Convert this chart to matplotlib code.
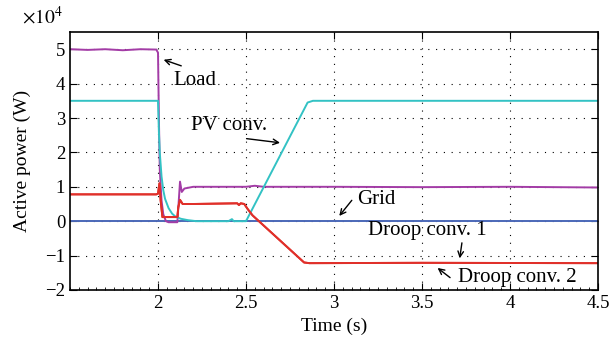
import matplotlib.pyplot as plt
from matplotlib.ticker import MultipleLocator

# power values in units of 1e4 W
t_load = [1.5, 1.6, 1.7, 1.8, 1.9, 1.99, 2.0, 2.005, 2.01, 2.02, 2.03, 2.045, 2.06, 2.11, 2.118,
          2.125, 2.135, 2.15, 2.2, 2.5, 2.55, 2.6, 3.0, 3.5, 4.0, 4.5]
p_load = [5.0, 4.98, 5.0, 4.97, 5.0, 4.99, 4.9, 3.0, 1.5, 0.6, 0.2, 0.0, -0.03, -0.03, 0.6,
          1.15, 0.85, 0.95, 1.0, 1.0, 1.03, 1.0, 1.0, 0.99, 1.0, 0.98]

t_pv = [1.5, 2.0, 2.005, 2.01, 2.02, 2.03, 2.04, 2.06, 2.08, 2.1, 2.13, 2.17, 2.22, 2.4, 2.42,
        2.43, 2.5, 2.85, 2.88, 3.5, 4.5]
p_pv = [3.5, 3.5, 2.6, 2.0, 1.3, 0.9, 0.65, 0.38, 0.22, 0.13, 0.07, 0.03, 0.0, 0.0, 0.06,
        0.0, 0.0, 3.45, 3.5, 3.5, 3.5]

t_grid = [1.5, 4.5]
p_grid = [0.0, 0.0]

t_droop = [1.5, 1.99, 2.0, 2.008, 2.015, 2.025, 2.11, 2.115, 2.125, 2.14, 2.2, 2.45, 2.46, 2.47,
           2.49, 2.51, 2.537, 2.83, 2.86, 3.5, 4.5]
p_droop1 = [0.78, 0.78, 0.8, 1.1, 0.6, 0.12, 0.12, 0.4, 0.62, 0.5, 0.5, 0.52, 0.47, 0.52,
            0.5, 0.35, 0.17, -1.2, -1.22, -1.21, -1.22]
p_droop2 = list(p_droop1)

plt.rcParams['font.family'] = ['Liberation Serif', 'DejaVu Serif']
plt.rcParams['mathtext.fontset'] = 'stix'

fig = plt.figure(figsize=(6.11, 3.53), dpi=100)
ax = fig.add_axes([0.1146, 0.1785, 0.8641, 0.7308])

lw = 1.4
ax.plot(t_grid, p_grid, color='#4b68b8', lw=lw)
ax.plot(t_load, p_load, color='#a33ca6', lw=lw)
ax.plot(t_pv, p_pv, color='#33c2c4', lw=lw)
ax.plot(t_droop, p_droop1, color='#e0302a', lw=lw)
ax.plot(t_droop, p_droop2, color='#e0302a', lw=lw)

ax.set_xlim(1.5, 4.5)
ax.set_ylim(-2, 5.5)
ax.set_xticks([2, 2.5, 3, 3.5, 4, 4.5])
ax.set_xticklabels(['2', '2.5', '3', '3.5', '4', '4.5'])
ax.set_yticks(range(-2, 6))
ax.set_yticklabels(['\u22122', '\u22121', '0', '1', '2', '3', '4', '5'])
ax.xaxis.set_minor_locator(MultipleLocator(0.05))
ax.tick_params(which='both', direction='in', top=True, right=True, labelsize=13.5)
ax.tick_params(which='major', length=5)
ax.tick_params(which='minor', length=2.5, top=False)
ax.grid(True, color='black', linestyle=(0, (1, 6)), lw=0.8)
for s in ax.spines.values():
    s.set_linewidth(1.2)

ax.set_xlabel('Time (s)', fontsize=14)
ax.set_ylabel('Active power (W)', fontsize=14, labelpad=10)
fig.text(22 / 611, 1 - 17 / 353, r'$\times 10^4$', fontsize=14, ha='left', va='center')

fs = 15
arrow = dict(arrowstyle='->', color='black', lw=1.0)
ax.text(2.085, 4.09, 'Load', fontsize=fs, ha='left', va='center')
ax.annotate('', xy=(2.017, 4.72), xytext=(2.147, 4.49), arrowprops=arrow)
ax.text(2.187, 2.78, 'PV conv.', fontsize=fs, ha='left', va='center')
ax.annotate('', xy=(2.709, 2.27), xytext=(2.4875, 2.41), arrowprops=arrow)
ax.text(3.134, 0.64, 'Grid', fontsize=fs, ha='left', va='center')
ax.annotate('', xy=(3.02, 0.09), xytext=(3.111, 0.67), arrowprops=arrow)
ax.text(3.196, -0.26, 'Droop conv. 1', fontsize=fs, ha='left', va='center')
ax.annotate('', xy=(3.712, -1.16), xytext=(3.729, -0.55), arrowprops=arrow)
ax.text(3.706, -1.63, 'Droop conv. 2', fontsize=fs, ha='left', va='center')
ax.annotate('', xy=(3.576, -1.31), xytext=(3.672, -1.69), arrowprops=arrow)

fig.savefig('out.png', dpi=100)
